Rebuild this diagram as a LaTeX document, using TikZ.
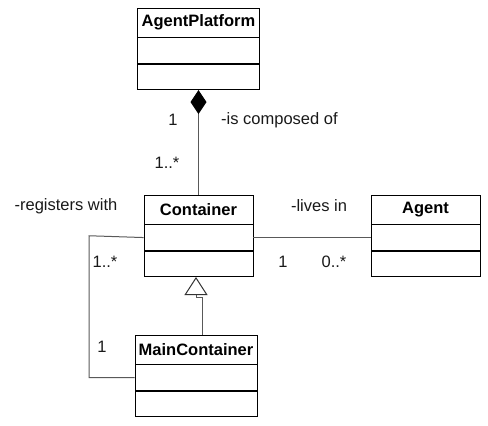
\documentclass[tikz,border=0pt]{standalone}
\usepackage{fontspec}
\setmainfont{Liberation Sans}
\usetikzlibrary{positioning}
\usetikzlibrary{arrows.meta}
\tikzset{
  clstitle/.style={draw,thick,inner sep=0pt,minimum height=29pt,font=\fontsize{16.5}{19}\selectfont\bfseries},
  clspart/.style={draw,thick,inner sep=0pt,minimum height=25.5pt},
  lbl/.style={inner sep=0pt,text=black!90,font=\fontsize{16.5}{19}\selectfont},
  assoc/.style={black!65,line width=1pt},
  composed/.style={assoc,{Diamond[width=16pt,length=24pt,fill=black,color=black]}-},
  inherit/.style={assoc,-{Triangle[open,width=23pt,length=18pt,line width=1pt,color=black!80]}}
}

\begin{document}
\begin{tikzpicture}[x=1pt,y=-1pt]
\useasboundingbox (0,0) rectangle (488,426);
%AgentPlatform
\node [clstitle,minimum width=122pt] (ap1) at (198.5,22.5) {AgentPlatform};
\node [clspart,minimum width=122pt,below=0pt of ap1] (ap2) {};
\node [clspart,minimum width=122pt,below=0pt of ap2] (ap3) {};
%Container
\node [clstitle,minimum width=109pt] (ct1) at (198.5,209.5) {Container};
\node [clspart,minimum width=109pt,below=0pt of ct1] (ct2) {};
\node [clspart,minimum width=109pt,below=0pt of ct2] (ct3) {};
%Agent
\node [clstitle,minimum width=109pt] (ag1) at (425.5,209.5) {Agent};
\node [clspart,minimum width=109pt,below=0pt of ag1] (ag2) {};
\node [clspart,minimum width=109pt,below=0pt of ag2] (ag3) {};
%MainContainer
\node [clstitle,minimum width=122pt] (mc1) at (196,349.5) {MainContainer};
\node [clspart,minimum width=122pt,below=0pt of mc1] (mc2) {};
\node [clspart,minimum width=122pt,below=0pt of mc2] (mc3) {};
%composition
\draw [composed] (ap3.south) -- (ct1.north);
\node [lbl] (cpone) at (173,120) {1};
\node [lbl,right] (cpname) at (221,120) {-is composed of};
\node [lbl] (cpmany) at (167,163) {1..*};
%lives in
\draw [assoc] (ct2.east) -- (ag2.west);
\node [lbl] (lvname) at (319,206) {-lives in};
\node [lbl] (lvone) at (283,262) {1};
\node [lbl] (lvmany) at (334,262) {0..*};
%registers with
\coordinate (regcorner) at (89,235.75);
\draw [assoc] (ct2.west) -- (regcorner) |- (mc2.west);
\node [lbl] (rgname) at (66,206) {-registers with};
\node [lbl] (rgmany) at (105,262) {1..*};
\node [lbl] (rgone) at (102,347) {1};
%generalization
\coordinate (jog) at (196,297);
\draw [inherit] ([xshift=6pt]mc1.north) |- (jog) -- (jog |- ct3.south);
\end{tikzpicture}
\end{document}
